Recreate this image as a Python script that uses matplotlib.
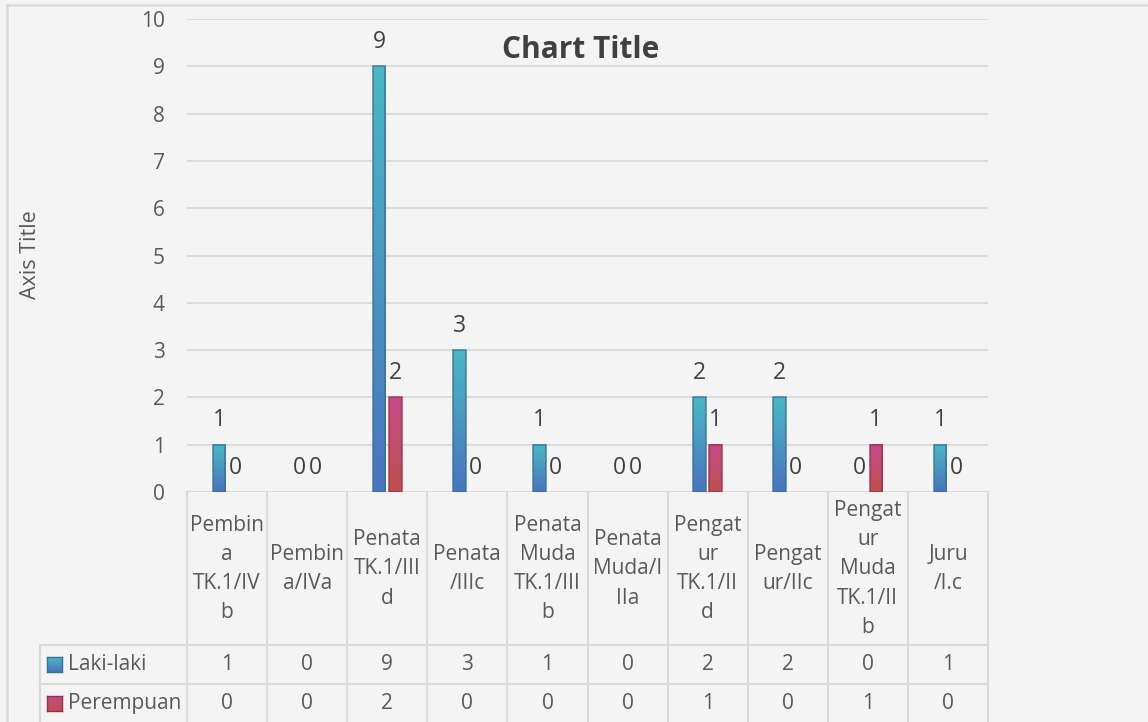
import numpy as np
import matplotlib.pyplot as plt
from matplotlib.lines import Line2D
from matplotlib.patches import Rectangle
from matplotlib.colors import LinearSegmentedColormap
import matplotlib.transforms as mtransforms

# Data
categories = ["Pembin\na\nTK.1/IV\nb", "Pembin\na/IVa", "Penata\nTK.1/III\nd",
              "Penata\n/IIIc", "Penata\nMuda\nTK.1/III\nb", "Penata\nMuda/I\nIIa",
              "Pengat\nur\nTK.1/II\nd", "Pengat\nur/IIc",
              "Pengat\nur\nMuda\nTK.1/II\nb", "Juru\n/I.c"]
series_names = ["Laki-laki", "Perempuan"]
laki = [1, 0, 9, 3, 1, 0, 2, 2, 0, 1]
perempuan = [0, 0, 2, 0, 0, 0, 1, 0, 1, 0]
y_ticks = list(range(0, 11))

W, H = 1148, 722
BG = "#f4f4f4"
GRID = "#d9d9d9"
TXT = "#595959"
LBL = "#404040"

plt.rcParams["font.family"] = ["Open Sans", "DejaVu Sans"]

# gradients (bottom colour, top colour)
grad_laki = LinearSegmentedColormap.from_list("laki", ["#4a73bd", "#4bb8c4"])
grad_per = LinearSegmentedColormap.from_list("per", ["#c0504d", "#c44b8a"])
grads = [grad_laki, grad_per]
edges = ["#3a6f95", "#953055"]

fig = plt.figure(figsize=(W / 100, H / 100), dpi=100, facecolor=BG)
ax = fig.add_axes([187 / W, 1 - 492 / H, (988 - 187) / W, (492 - 19) / H])
ax.set_facecolor(BG)

x = np.arange(len(categories))
width = 0.156
offsets = [-0.1, 0.1]
grad_img = np.linspace(0, 1, 256).reshape(-1, 1)

for s, vals in enumerate([laki, perempuan]):
    for xi, v in zip(x, vals):
        xc = xi + offsets[s]
        if v > 0:
            ax.imshow(grad_img, cmap=grads[s], origin="lower", aspect="auto",
                      extent=[xc - width / 2, xc + width / 2, 0, v], zorder=3)
            ax.add_patch(Rectangle((xc - width / 2, 0), width, v, fill=False,
                                   edgecolor=edges[s], lw=1.2, alpha=0.8, zorder=4))
        ax.annotate(str(v), (xc, v), xytext=(0, 17.5), textcoords="offset points",
                    ha="center", va="center", fontsize=16.5, color=LBL, zorder=5)

ax.set_xlim(-0.5, len(categories) - 0.5)
ax.set_ylim(0, 10)
ax.set_yticks(y_ticks)
ax.yaxis.grid(True, color=GRID, lw=1.3, zorder=0)
ax.set_axisbelow(True)
ax.tick_params(axis="y", length=0, pad=16, labelsize=15, labelcolor=TXT)
ax.set_xticks([])
for sp in ax.spines.values():
    sp.set_visible(False)
ax.axhline(0, color=GRID, lw=1.5, zorder=2)

fig.text(30 / W, 1 - 255 / H, "Axis Title", rotation=90, ha="center",
         va="center", fontsize=15.5, color=TXT)

fig.text(581 / W, 1 - 50 / H, "Chart Title", ha="center", va="center",
         fontsize=21.5, fontweight="bold", color=LBL)


# Data table below the axes
def fy(ypx):
    return 1 - ypx / H


blend = mtransforms.blended_transform_factory(ax.transData, fig.transFigure)
left_px = 40
x_left = -0.5 - (187 - left_px) / 80.0

for b in np.arange(len(categories) + 1) - 0.5:
    fig.add_artist(Line2D([b, b], [fy(492), fy(722)], transform=blend,
                          color=GRID, lw=1.5))
for yl in [645, 684]:
    fig.add_artist(Line2D([x_left, len(categories) - 0.5], [fy(yl), fy(yl)],
                          transform=blend, color=GRID, lw=1.5))
fig.add_artist(Line2D([x_left, x_left], [fy(645), fy(722)], transform=blend,
                      color=GRID, lw=1.5))

for xi, lab in zip(x, categories):
    fig.text(xi, fy(569), lab, transform=blend, ha="center", va="center",
             fontsize=15, color=TXT, linespacing=1.52)

row_y = [664.5, 703.5]
for s, vals in enumerate([laki, perempuan]):
    for xi, v in zip(x, vals):
        fig.text(xi, fy(row_y[s]), str(v), transform=blend, ha="center",
                 va="center", fontsize=15, color=TXT)
    # legend key
    kax = fig.add_axes([47 / W, fy(row_y[s] + 7.5), 15 / W, 15 / H])
    kax.imshow(grad_img, cmap=grads[s], origin="lower", aspect="auto")
    kax.set_xticks([])
    kax.set_yticks([])
    for sp in kax.spines.values():
        sp.set_color(edges[s])
        sp.set_linewidth(1)
    fig.text(68 / W, fy(row_y[s]), series_names[s], ha="left", va="center",
             fontsize=15, color=TXT)

# chart border (top and left visible)
fig.add_artist(Line2D([7 / W, 1], [fy(5), fy(5)], color=GRID, lw=1.8))
fig.add_artist(Line2D([7 / W, 7 / W], [fy(5), 0], color=GRID, lw=1.8))

fig.savefig("out.png", dpi=100, facecolor=BG)
